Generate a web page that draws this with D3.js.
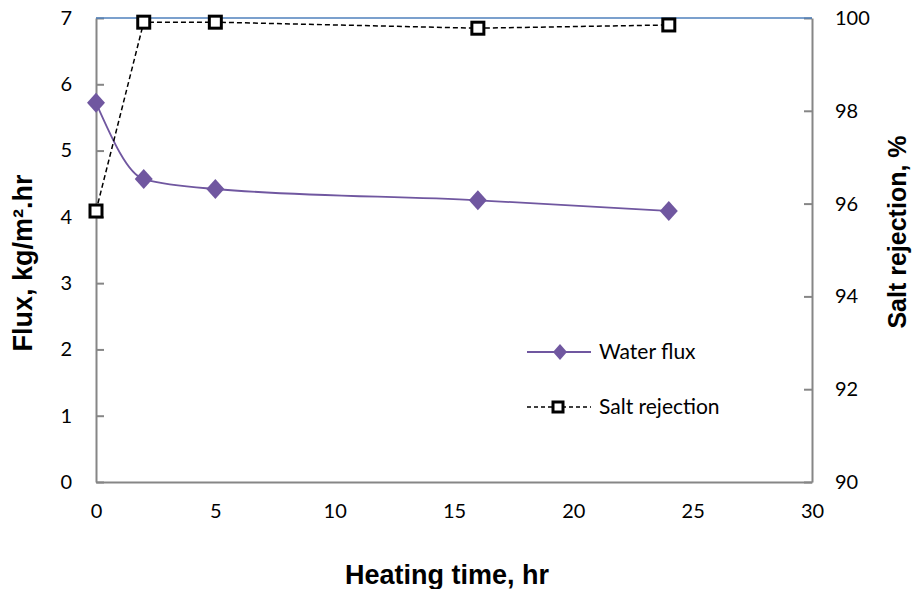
<!DOCTYPE html>
<html>
<head>
<meta charset="UTF-8">
<title>Flux and salt rejection</title>
<script src="https://cdn.jsdelivr.net/npm/d3@7"></script>
<style>
  body { margin: 0; background: #fff; }
  .tick text { font-family: Lato, "Open Sans", sans-serif; font-size: 20px; fill: #000; }
  .title { font-family: "Liberation Sans", Arial, sans-serif; font-weight: bold; fill: #000; }
  .legend text { font-family: Lato, "Open Sans", sans-serif; font-size: 21px; fill: #000; }
</style>
</head>
<body>
<svg width="912" height="589"></svg>
<script>
// heating time, hr
var hours = [0, 2, 5, 16, 24];
// water flux, kg/m2.hr
var flux = [5.72, 4.57, 4.42, 4.25, 4.09];
// salt rejection, %
var rejection = [95.84, 99.91, 99.91, 99.78, 99.85];

var xTicks = [0, 5, 10, 15, 20, 25, 30];
var fluxTicks = [0, 1, 2, 3, 4, 5, 6, 7];
var rejTicks = [90, 92, 94, 96, 98, 100];

var svg = d3.select("svg");
var plotL = 96, plotR = 812, plotT = 18, plotB = 482;

var x = d3.scaleLinear().domain([0, 30]).range([plotL, plotR]);
var y = d3.scaleLinear().domain([0, 7]).range([plotB, plotT]);
var y2 = d3.scaleLinear().domain([90, 100]).range([plotB, plotT]);

var axisColor = "#868686";

// left axis
var gl = svg.append("g").attr("transform", "translate(" + plotL + ",0)")
  .call(d3.axisLeft(y).tickValues(fluxTicks).tickFormat(d3.format("d"))
    .tickSizeInner(-8).tickSizeOuter(0).tickPadding(24));
// right axis
var gr = svg.append("g").attr("transform", "translate(" + plotR + ",0)")
  .call(d3.axisRight(y2).tickValues(rejTicks).tickFormat(d3.format("d"))
    .tickSizeInner(-8).tickSizeOuter(0).tickPadding(23));
// bottom axis
var gb = svg.append("g").attr("transform", "translate(0," + plotB + ")")
  .call(d3.axisBottom(x).tickValues(xTicks).tickSize(0).tickPadding(22));

[gl, gr, gb].forEach(function(g) {
  g.select(".domain").attr("stroke", axisColor).attr("stroke-width", 2);
  g.selectAll(".tick line").attr("stroke", axisColor).attr("stroke-width", 2);
});

// top border line
svg.append("line")
  .attr("x1", plotL).attr("x2", plotR).attr("y1", plotT).attr("y2", plotT)
  .attr("stroke", "#4F81BD").attr("stroke-width", 1.5);

var purple = "#7057A0";

// water flux smoothed line
var fluxData = hours.map(function(h, i) { return [h, flux[i]]; });
svg.append("path")
  .datum(fluxData)
  .attr("fill", "none").attr("stroke", purple).attr("stroke-width", 1.8)
  .attr("d", d3.line().x(function(d) { return x(d[0]); }).y(function(d) { return y(d[1]); })
    .curve(d3.curveMonotoneX));

svg.selectAll(".fluxpt").data(fluxData).enter().append("path")
  .attr("class", "fluxpt")
  .attr("d", "M0,-10L9,0L0,10L-9,0Z")
  .attr("fill", purple)
  .attr("transform", function(d) { return "translate(" + x(d[0]) + "," + y(d[1]) + ")"; });

// salt rejection
var rejData = hours.map(function(h, i) { return [h, rejection[i]]; });
svg.append("path")
  .datum(rejData)
  .attr("fill", "none").attr("stroke", "#000").attr("stroke-width", 1.5)
  .attr("stroke-dasharray", "5,3")
  .attr("d", d3.line().x(function(d) { return x(d[0]); }).y(function(d) { return y2(d[1]); }));

svg.selectAll(".rejpt").data(rejData).enter().append("rect")
  .attr("x", function(d) { return x(d[0]) - 6; })
  .attr("y", function(d) { return y2(d[1]) - 6; })
  .attr("width", 12).attr("height", 12)
  .attr("fill", "#fff").attr("stroke", "#000").attr("stroke-width", 3);

// legend
var lg = svg.append("g").attr("class", "legend");
lg.append("line").attr("x1", 527).attr("x2", 591).attr("y1", 352).attr("y2", 352)
  .attr("stroke", purple).attr("stroke-width", 1.8);
lg.append("path").attr("d", "M0,-8L7,0L0,8L-7,0Z").attr("fill", purple)
  .attr("transform", "translate(560,352)");
lg.append("text").attr("x", 599).attr("y", 359).text("Water flux");

lg.append("line").attr("x1", 527).attr("x2", 591).attr("y1", 407).attr("y2", 407)
  .attr("stroke", "#000").attr("stroke-width", 1.5).attr("stroke-dasharray", "4,3");
lg.append("rect").attr("x", 553).attr("y", 402).attr("width", 10).attr("height", 10)
  .attr("fill", "#fff").attr("stroke", "#000").attr("stroke-width", 3);
lg.append("text").attr("x", 599).attr("y", 414).text("Salt rejection");

// axis titles
svg.append("text").attr("class", "title")
  .attr("text-anchor", "middle").style("font-size", "27px")
  .attr("transform", "translate(32,263) rotate(-90)")
  .text("Flux, kg/m².hr");

svg.append("text").attr("class", "title")
  .attr("text-anchor", "middle").style("font-size", "25px")
  .attr("transform", "translate(906,232) rotate(-90)")
  .text("Salt rejection, %");

svg.append("text").attr("class", "title")
  .attr("text-anchor", "middle").style("font-size", "27px")
  .attr("x", 447).attr("y", 584)
  .text("Heating time, hr");
</script>
</body>
</html>
